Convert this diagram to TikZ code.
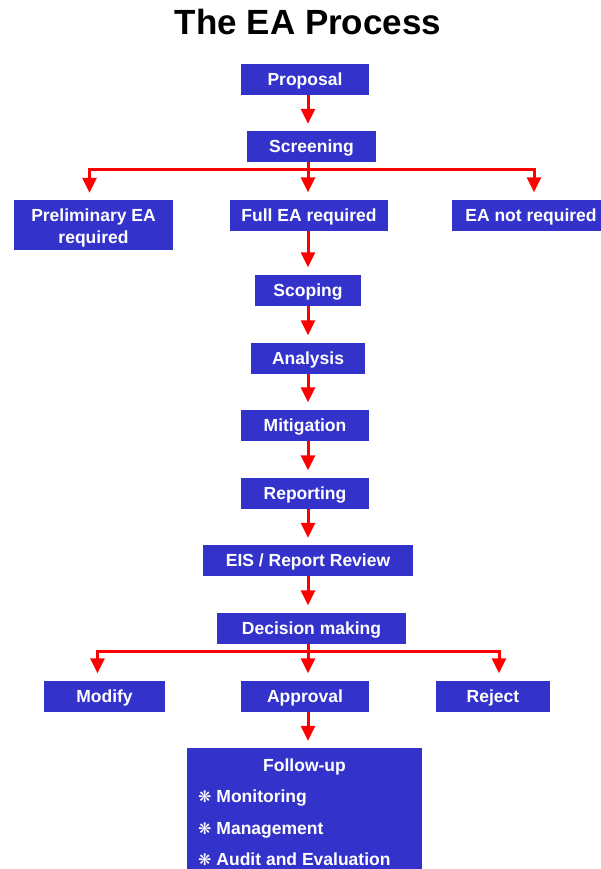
\documentclass[tikz,border=0pt]{standalone}
\usepackage{xcolor}
\usepackage{fontspec}
\setmainfont{Liberation Sans}
\newfontfamily\symfont{DejaVu Sans}
\usetikzlibrary{arrows.meta}

\definecolor{boxblue}{HTML}{3333CC}
\definecolor{arrowred}{HTML}{FF0000}

\tikzset{
  stage/.style={fill=boxblue, text=white, inner sep=0pt, align=center,
    minimum height=31pt, text height=12.5pt, text depth=0pt,
    font=\bfseries\fontsize{17.5}{22}\selectfont},
  flow/.style={draw=arrowred, line width=3pt, line join=miter,
    -{Triangle[width=14pt,length=15pt]}, shorten >=7pt},
  link/.style={draw=arrowred, line width=3pt},
  itemtext/.style={text=white, anchor=base west, inner sep=0pt,
    font=\bfseries\fontsize{17.5}{22}\selectfont}
}
\newcommand{\flowerbul}{{\symfont\fontsize{16}{16}\selectfont ❋}}

\begin{document}
\begin{tikzpicture}[x=1pt,y=-1pt]
                \useasboundingbox (0,0) rectangle (601,869);

                \node[font=\bfseries\fontsize{35}{40}\selectfont] (title) at (308,22) {The EA Process};

                \coordinate (spine) at (308,0);

                \node[stage, minimum width=128pt] (proposal)  at (305,79.5)  {Proposal};
                \node[stage, minimum width=129pt] (screening) at (311.5,146.5) {Screening};

                \node[stage, minimum width=159pt, minimum height=50pt, text height=36pt] (prelim) at (93.5,225) {Preliminary EA\\required};
                \node[stage, minimum width=158pt] (full)   at (309,215) {Full EA required};
                \node[stage, minimum width=158pt] (notreq) at (531,215) {EA not required};

                \node[stage, minimum width=106pt] (scoping)    at (308,290)   {Scoping};
                \node[stage, minimum width=114pt] (analysis)   at (308,358)   {Analysis};
                \node[stage, minimum width=128pt] (mitigation) at (305,425)   {Mitigation};
                \node[stage, minimum width=128pt] (reporting)  at (305,493)   {Reporting};
                \node[stage, minimum width=210pt] (review)     at (308,560.5) {EIS / Report Review};
                \node[stage, minimum width=189pt] (decision)   at (311.5,628) {Decision making};

                \node[stage, minimum width=121pt] (modify)   at (104.5,696) {Modify};
                \node[stage, minimum width=128pt] (approval) at (305,696)   {Approval};
                \node[stage, minimum width=114pt] (reject)   at (493,696)   {Reject};

                \node[stage, minimum width=235pt, minimum height=121pt] (followup) at (304.5,808.5) {};
                \node[stage, fill=none] (fuhead) at (304.5,765) {Follow-up};
                \node[itemtext] (monitor) at (198,802) {\flowerbul\ Monitoring};
                \node[itemtext] (manage)  at (198,834) {\flowerbul\ Management};
                \node[itemtext] (audit)   at (198,865) {\flowerbul\ Audit and Evaluation};

                % main line
                \draw[flow] (proposal.south -| spine) -- (screening.north -| spine);

                \coordinate (split1) at (308,170);
                \draw[link] (screening.south -| spine) -- (split1);
                \draw[flow] (split1) -| ([xshift=-4pt]prelim.north);
                \draw[flow] (split1) -- (full.north -| spine);
                \draw[flow] (split1) -| ([xshift=3pt]notreq.north);

                \draw[flow] (full.south -| spine) -- (scoping.north -| spine);
                \draw[flow] (scoping.south -| spine) -- (analysis.north -| spine);
                \draw[flow] (analysis.south -| spine) -- (mitigation.north -| spine);
                \draw[flow] (mitigation.south -| spine) -- (reporting.north -| spine);
                \draw[flow] (reporting.south -| spine) -- (review.north -| spine);
                \draw[flow] (review.south -| spine) -- (decision.north -| spine);

                \coordinate (split2) at (308,651);
                \draw[link] (decision.south -| spine) -- (split2);
                \draw[flow] (split2) -| ([xshift=-7pt]modify.north);
                \draw[flow] (split2) -- (approval.north -| spine);
                \draw[flow] (split2) -| ([xshift=6pt]reject.north);

                \draw[flow] (approval.south -| spine) -- (followup.north -| spine);
            \end{tikzpicture}
\end{document}
